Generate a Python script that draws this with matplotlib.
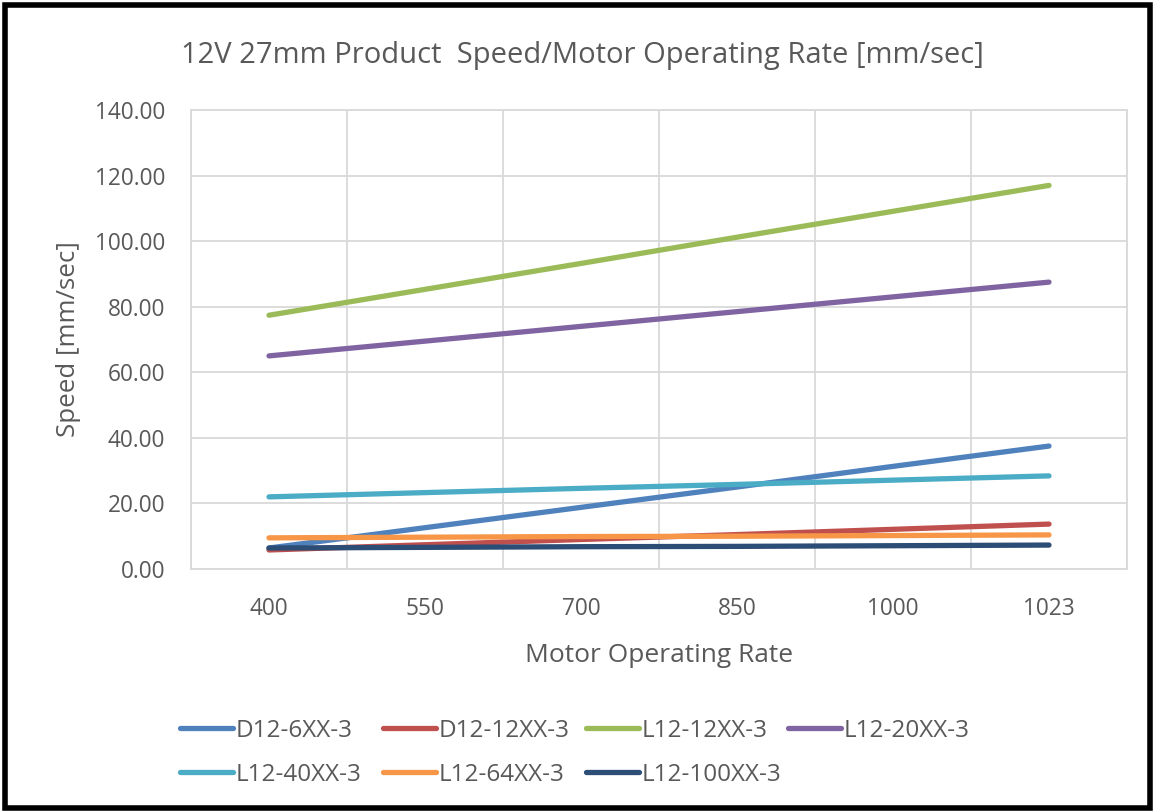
import matplotlib.pyplot as plt
import matplotlib.patches as patches
from matplotlib.ticker import FormatStrFormatter

plt.rcParams['font.family'] = ['Open Sans', 'DejaVu Sans']

rates = ['400', '550', '700', '850', '1000', '1023']
d12_6 = [6.4, 12.6, 18.8, 25.0, 31.3, 37.5]
d12_12 = [5.8, 7.4, 9.0, 10.5, 12.1, 13.7]
l12_12 = [77.4, 85.3, 93.2, 101.2, 109.1, 117.0]
l12_20 = [65.0, 69.5, 74.0, 78.5, 83.0, 87.5]
l12_40 = [22.0, 23.3, 24.6, 25.8, 27.1, 28.4]
l12_64 = [9.5, 9.7, 9.9, 10.0, 10.2, 10.4]
l12_100 = [6.4, 6.6, 6.8, 6.9, 7.1, 7.3]

names = ['D12-6XX-3', 'D12-12XX-3', 'L12-12XX-3', 'L12-20XX-3',
         'L12-40XX-3', 'L12-64XX-3', 'L12-100XX-3']
series = [d12_6, d12_12, l12_12, l12_20, l12_40, l12_64, l12_100]
colors = ['#4F81BD', '#C0504D', '#9BBB59', '#8064A2',
          '#4BACC6', '#F79646', '#2C4D75']

grey = '#595959'
fig = plt.figure(figsize=(11.53, 8.11), dpi=100)
ax = fig.add_axes([191/1153, 1 - 569/811, (1127-191)/1153, (569-110)/811])

x = list(range(len(rates)))
handles = []
for s, name, c in zip(series, names, colors):
    h, = ax.plot(x, s, color=c, lw=3.8, solid_capstyle='round', label=name)
    handles.append(h)

ax.set_xlim(-0.5, len(rates) - 0.5)
ax.set_ylim(0, 140)
ax.set_yticks(range(0, 141, 20))
ax.yaxis.set_major_formatter(FormatStrFormatter('%.2f'))
ax.set_xticks(x)
ax.set_xticklabels(rates)
ax.set_xticks([i + 0.5 for i in range(-1, len(rates))], minor=True)
ax.grid(axis='y', color='#D9D9D9', lw=1.3)
ax.grid(axis='x', which='minor', color='#D9D9D9', lw=1.3)
ax.set_axisbelow(True)
for sp in ax.spines.values():
    sp.set_color('#D9D9D9')
    sp.set_linewidth(1.3)
ax.tick_params(which='both', length=0, colors=grey, labelsize=16.3)
ax.tick_params(axis='x', pad=20)
ax.tick_params(axis='y', pad=18.5)

ax.set_xlabel('Motor Operating Rate', fontsize=19, color=grey, labelpad=16)
ax.set_ylabel('Speed [mm/sec]', fontsize=18.6, color=grey, labelpad=10)
fig.text(582/1153, 1 - 56/811, '12V 27mm Product  Speed/Motor Operating Rate [mm/sec]',
         ha='center', va='center', fontsize=21, color=grey)

# one small legend per column so the columns sit at even spacing like Excel
col_x = [180, 383, 586, 788]
for i, cx in enumerate(col_x):
    idx = [j for j in (i, i + 4) if j < len(names)]
    leg = fig.legend([handles[j] for j in idx], [names[j] for j in idx],
                     loc='upper left', bbox_to_anchor=(cx/1153, 1 - 719/811),
                     frameon=False, fontsize=17.5, handlelength=2.2, handletextpad=0.1,
                     labelspacing=0.82, labelcolor=grey, borderpad=0, borderaxespad=0)

fig.patches.append(patches.Rectangle((0.004, 0.004), 0.993, 0.99, transform=fig.transFigure,
                                     fill=False, edgecolor='black', lw=4))

fig.savefig('out.png', dpi=100)
